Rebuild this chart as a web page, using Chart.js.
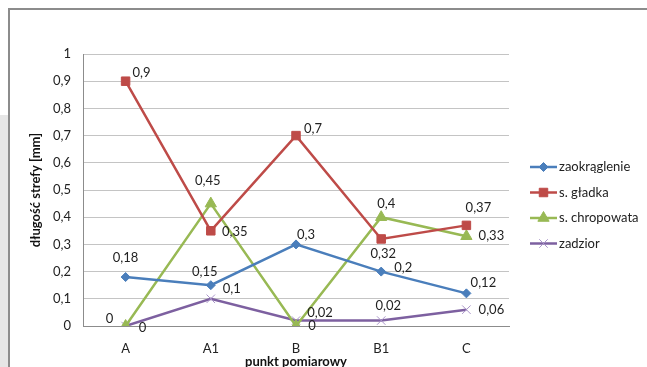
<!DOCTYPE html>
<html>
<head>
<meta charset="utf-8">
<script src="https://cdn.jsdelivr.net/npm/chart.js@4.4.1/dist/chart.umd.min.js"></script>
<style>
  html, body { margin: 0; padding: 0; background: #fff; }
  #wrap { position: relative; width: 647px; height: 367px; overflow: hidden; background: #fff; }
  #side { position: absolute; left: 0; top: 115px; width: 8px; height: 252px; background: #e6e6e6; }
  #frame { position: absolute; left: 8px; top: 8px; width: 639px; height: 359px;
           border-left: 2px solid #8c8c8c; border-top: 2px solid #8c8c8c; box-sizing: border-box; }
  canvas { position: absolute; left: 0; top: 0; }
</style>
</head>
<body>
<div id="wrap">
  <div id="side"></div>
  <div id="frame"></div>
  <canvas id="c" width="647" height="367"></canvas>
</div>
<script>
// Measurement points and zone lengths [mm]
const categories = ['A', 'A1', 'B', 'B1', 'C'];
const zaokraglenie = [0.18, 0.15, 0.3, 0.2, 0.12];
const sGladka = [0.9, 0.35, 0.7, 0.32, 0.37];
const sChropowata = [0, 0.45, 0, 0.4, 0.33];
const zadzior = [0, 0.1, 0.02, 0.02, 0.06];
const yTicks = [0, 0.1, 0.2, 0.3, 0.4, 0.5, 0.6, 0.7, 0.8, 0.9, 1];

// Where each value label sits relative to its point (px)
const labelOffsets = [
  [[0, -19], [-6, -13], [10, -10], [22, -4], [17, -11]],
  [[16, -8], [24, 1], [17, -7], [2, 15], [12, -18]],
  [[-16, -7], [-3, -23], [16, 0], [5, -13], [25, 0]],
  [[17, 2], [21, -10], [24, -8], [7, -15], [25, 0]]
];

const FONT = 'Lato, "Open Sans", sans-serif';
const FS = 13;
const fmt = v => String(v).replace('.', ',');

const series = [
  { label: 'zaokrąglenie', data: zaokraglenie, color: '#4A7EBB', style: 'rectRot', r: 4.5, bw: 1 },
  { label: 's. gładka', data: sGladka, color: '#BE4B48', style: 'rect', r: 6, bw: 1 },
  { label: 's. chropowata', data: sChropowata, color: '#98B954', style: 'triangle', r: 6.5, bw: 1 },
  { label: 'zadzior', data: zadzior, color: '#7D60A0', style: 'crossRot', r: 6, bw: 1, pointColor: '#A994C8' }
];

const valueLabels = {
  id: 'valueLabels',
  afterDatasetsDraw(chart) {
    const ctx = chart.ctx;
    ctx.save();
    ctx.font = FS + 'px ' + FONT;
    ctx.fillStyle = '#222';
    ctx.textAlign = 'center';
    ctx.textBaseline = 'middle';
    chart.data.datasets.forEach((ds, i) => {
      const meta = chart.getDatasetMeta(i);
      meta.data.forEach((pt, j) => {
        const off = labelOffsets[i][j];
        ctx.fillText(fmt(ds.data[j]), pt.x + off[0], pt.y + off[1]);
      });
    });
    ctx.restore();
  }
};

const sideLegend = {
  id: 'sideLegend',
  afterDraw(chart) {
    const ctx = chart.ctx;
    const area = chart.chartArea;
    const x0 = area.right + 21, x1 = x0 + 27, xm = (x0 + x1) / 2;
    const rowH = 25.5;
    const y0 = area.top + 113;
    ctx.save();
    chart.data.datasets.forEach((ds, i) => {
      const y = y0 + i * rowH;
      ctx.strokeStyle = ds.borderColor;
      ctx.lineWidth = 2.5;
      ctx.beginPath();
      ctx.moveTo(x0, y);
      ctx.lineTo(x1, y);
      ctx.stroke();
      ctx.fillStyle = ds.pointBackgroundColor;
      ctx.strokeStyle = ds.pointBorderColor;
      ctx.lineWidth = ds.pointBorderWidth;
      Chart.helpers.drawPoint(ctx, {
        pointStyle: ds.pointStyle,
        radius: ds.pointRadius,
        borderWidth: ds.pointBorderWidth,
        rotation: 0
      }, xm, y);
      ctx.font = FS + 'px ' + FONT;
      ctx.fillStyle = '#222';
      ctx.textAlign = 'left';
      ctx.textBaseline = 'middle';
      ctx.fillText(ds.label, x1 + 2, y);
    });
    ctx.restore();
  }
};

new Chart(document.getElementById('c'), {
  type: 'line',
  data: {
    labels: categories,
    datasets: series.map(s => ({
      label: s.label,
      data: s.data,
      borderColor: s.color,
      backgroundColor: s.color,
      borderWidth: 2.5,
      pointStyle: s.style,
      pointRadius: s.r,
      pointHoverRadius: s.r,
      pointBorderWidth: s.bw,
      pointBackgroundColor: s.pointColor || s.color,
      pointBorderColor: s.pointColor || s.color,
      tension: 0,
      fill: false
    }))
  },
  options: {
    responsive: false,
    animation: false,
    events: [],
    layout: { padding: { left: 24, top: 54, right: 138, bottom: 0 } },
    plugins: { legend: { display: false }, tooltip: { enabled: false } },
    scales: {
      x: {
        offset: true,
        grid: { display: false, drawTicks: false },
        border: { display: true, color: '#8c8c8c', width: 1 },
        ticks: { color: '#222', font: { family: FONT, size: FS }, padding: 15 },
        title: { display: true, text: 'punkt pomiarowy', color: '#111',
                 font: { family: FONT, size: FS, weight: 'bold' }, padding: { top: 0, bottom: -3 } },
        afterFit(scale) { scale.height = 41; }
      },
      y: {
        min: 0, max: 1,
        afterBuildTicks(scale) { scale.ticks = yTicks.map(v => ({ value: v })); },
        grid: { color: '#c4c4c4', lineWidth: 1, drawTicks: false },
        border: { display: true, color: '#8c8c8c', width: 1 },
        ticks: { color: '#222', font: { family: FONT, size: FS }, padding: 12, callback: v => fmt(v) },
        title: { display: true, text: 'długość strefy [mm]', color: '#111',
                 font: { family: FONT, size: FS, weight: 'bold' }, padding: { top: 4, bottom: 0 } },
        afterFit(scale) { scale.width = 59; }
      }
    }
  },
  plugins: [valueLabels, sideLegend]
});
</script>
</body>
</html>
